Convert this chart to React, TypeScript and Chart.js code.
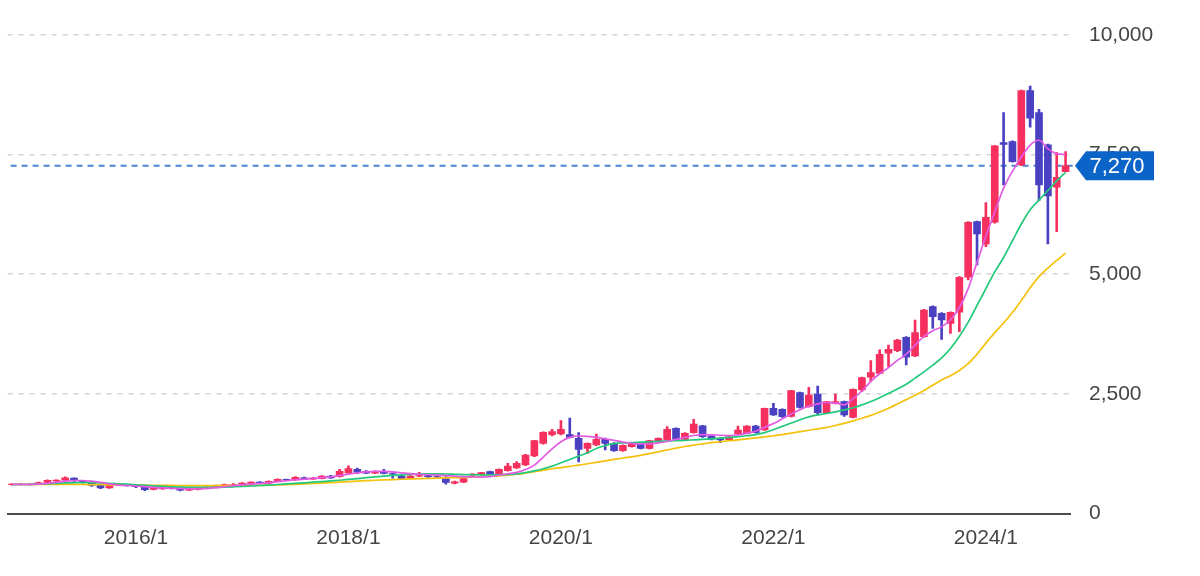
import { useEffect, useRef } from 'react';
import { Chart, registerables } from 'chart.js';

Chart.register(...registerables);

// ---- data (monthly, 2014/11 .. 2024/10) ----
const START_YEAR = 2014;
const START_MONTH = 11;

const OPEN = [
  600, 615, 605, 612, 648, 680, 698, 740, 678, 650,
  595, 535, 595, 600, 580, 565, 502, 515, 540, 518,
  485, 505, 520, 552, 582, 606, 612, 630, 656, 632,
  672, 712, 700, 745, 715, 730, 784, 772, 845, 922,
  880, 842, 880, 835, 782, 745, 782, 792, 772, 728,
  632, 655, 800, 812, 875, 826, 895, 951, 1014, 1202,
  1467, 1650, 1661, 1648, 1571, 1362, 1432, 1550, 1467, 1313,
  1397, 1467, 1362, 1501, 1536, 1780, 1550, 1690, 1830, 1620,
  1560, 1545, 1661, 1675, 1829, 1745, 2198, 2177, 2030, 2525,
  2233, 2497, 2107, 2302, 2337, 2010, 2581, 2847, 2930, 3349,
  3404, 3682, 3293, 3696, 4323, 4184, 3975, 4205, 4937, 6101,
  5634, 6087, 7753, 7773, 7285, 8837, 8380, 7704, 6819, 7146,
];
const HIGH = [
  625, 630, 625, 655, 705, 705, 765, 748, 690, 662,
  602, 602, 612, 608, 590, 572, 556, 548, 552, 530,
  520, 528, 562, 592, 615, 626, 645, 662, 666, 682,
  722, 718, 772, 760, 758, 792, 800, 925, 995, 948,
  898, 892, 925, 852, 810, 792, 858, 802, 792, 770,
  675, 740, 835, 862, 885, 935, 1049, 1083, 1235, 1530,
  1705, 1760, 1940, 1995, 1689, 1475, 1661, 1575, 1480, 1435,
  1465, 1480, 1530, 1580, 1815, 1790, 1690, 1968, 1845, 1630,
  1585, 1610, 1829, 1840, 1845, 2205, 2302, 2190, 2575, 2540,
  2637, 2665, 2345, 2497, 2350, 2605, 2850, 3195, 3418, 3522,
  3640, 3700, 4044, 4265, 4340, 4200, 4215, 4950, 6100, 6110,
  6498, 7690, 8380, 7790, 8850, 8935, 8449, 7720, 7544, 7565,
];
const LOW = [
  590, 595, 590, 605, 640, 665, 690, 668, 635, 565,
  520, 525, 580, 570, 540, 478, 495, 505, 512, 470,
  478, 495, 515, 545, 572, 595, 605, 622, 620, 625,
  665, 688, 695, 705, 710, 725, 735, 760, 840, 835,
  830, 830, 828, 740, 720, 730, 770, 742, 742, 612,
  618, 645, 790, 805, 815, 820, 885, 940, 1000, 1190,
  1450, 1620, 1640, 1580, 1076, 1258, 1420, 1327, 1300, 1300,
  1385, 1350, 1350, 1490, 1525, 1540, 1530, 1680, 1590, 1540,
  1480, 1530, 1650, 1665, 1680, 1735, 2050, 2010, 2020, 2200,
  2220, 2058, 2095, 2290, 2030, 2000, 2547, 2756, 2920, 3069,
  3380, 3104, 3280, 3680, 3870, 3640, 3766, 3801, 4881, 5195,
  5578, 6070, 6868, 7340, 7270, 8073, 6540, 5634, 5892, 7140,
];
const CLOSE = [
  615, 605, 612, 645, 692, 698, 748, 680, 652, 588,
  535, 595, 602, 582, 562, 500, 546, 540, 522, 485,
  512, 520, 552, 582, 606, 612, 635, 656, 632, 670,
  712, 700, 756, 712, 738, 784, 745, 880, 937, 862,
  842, 880, 840, 822, 735, 782, 790, 772, 762, 650,
  662, 730, 826, 854, 826, 923, 993, 1049, 1223, 1522,
  1696, 1710, 1759, 1592, 1341, 1467, 1550, 1467, 1313, 1425,
  1453, 1362, 1522, 1571, 1759, 1550, 1675, 1870, 1606, 1555,
  1540, 1600, 1745, 1829, 1689, 2198, 2058, 2024, 2567, 2219,
  2476, 2107, 2337, 2337, 2060, 2595, 2840, 2944, 3328, 3432,
  3626, 3265, 3780, 4253, 4114, 4044, 4205, 4937, 6087, 5843,
  6192, 7683, 7711, 7355, 8837, 8261, 6868, 6637, 7028, 7270,
];

// moving averages
const MA_SHORT = [
  610, 608, 607, 615, 630, 650, 675, 690, 690, 675,
  650, 620, 595, 585, 575, 560, 548, 535, 527, 520,
  515, 518, 525, 540, 560, 580, 600, 615, 630, 640,
  665, 685, 705, 720, 735, 750, 765, 790, 820, 850,
  868, 880, 880, 870, 850, 835, 820, 810, 800, 790,
  780, 770, 765, 760, 770, 800, 830, 860, 920, 1010,
  1180, 1350, 1500, 1590, 1620, 1610, 1590, 1560, 1530, 1495,
  1467, 1455, 1455, 1475, 1505, 1550, 1590, 1630, 1650, 1645,
  1635, 1630, 1640, 1680, 1720, 1800, 1880, 1980, 2080, 2170,
  2240, 2290, 2320, 2310, 2270, 2400, 2560, 2760, 2920, 3050,
  3200, 3330, 3520, 3700, 3820, 3900, 4050, 4300, 4700, 5250,
  5800, 6300, 6800, 7150, 7450, 7700, 7800, 7620, 7520, 7500,
];
const MA_MID = [
  605, 606, 608, 612, 620, 628, 638, 645, 648, 646,
  640, 632, 622, 612, 600, 588, 576, 566, 558, 552,
  548, 546, 546, 548, 552, 558, 565, 575, 585, 595,
  606, 618, 630, 642, 655, 668, 680, 695, 712, 730,
  748, 765, 780, 795, 808, 818, 826, 830, 830, 826,
  820, 814, 810, 808, 808, 810, 815, 830, 855, 890,
  935, 990, 1060, 1130, 1200, 1270, 1360, 1420, 1460, 1475,
  1480, 1492, 1500, 1508, 1515, 1522, 1530, 1540, 1550, 1560,
  1575, 1590, 1605, 1625, 1650, 1690, 1750, 1820, 1890, 1960,
  2020, 2060, 2090, 2125, 2165, 2210, 2270, 2340, 2420, 2510,
  2600, 2700, 2830, 2960, 3100, 3250, 3450, 3700, 4000, 4350,
  4700, 5050, 5350, 5700, 6050, 6350, 6550, 6750, 6950, 7130,
];
const MA_LONG = [
  610, 610, 608, 607, 606, 606, 607, 607, 606, 604,
  602, 600, 598, 596, 594, 592, 590, 588, 586, 585,
  584, 583, 582, 582, 582, 582, 583, 585, 588, 592,
  597, 603, 610, 618, 627, 636, 645, 655, 665, 675,
  685, 695, 703, 710, 716, 722, 728, 734, 740, 745,
  750, 755, 762, 770, 778, 786, 800, 820, 845, 875,
  905, 935, 960, 985, 1010, 1040, 1070, 1100, 1130, 1160,
  1185, 1215, 1250, 1290, 1330, 1365, 1400, 1430, 1455, 1480,
  1500, 1520, 1540, 1560, 1580, 1600, 1625, 1650, 1680, 1710,
  1740, 1770, 1800, 1840, 1885, 1935, 1990, 2050, 2120, 2200,
  2290, 2380, 2470, 2570, 2680, 2790, 2880, 2990, 3130, 3330,
  3560, 3780, 3980, 4200, 4450, 4720, 4950, 5130, 5290, 5440,
];

const TICK_LABELS = ['2016/1', '2018/1', '2020/1', '2022/1', '2024/1'];
const Y_TICKS = [0, 2500, 5000, 7500, 10000];
const LAST_PRICE = 7270;

const MONTHS: string[] = OPEN.map((_, i) => {
  const m = START_MONTH - 1 + i;
  return `${START_YEAR + Math.floor(m / 12)}/${(m % 12) + 1}`;
});

// ---- styles ----
const UP = '#f5305f';
const DOWN = '#4a40c2';
const PINK = '#e35ae3';
const GREEN = '#22c97a';
const YELLOW = '#f4c20d';
const BADGE = '#0b64c8';
const FONT = "'Liberation Sans', Arial, sans-serif";

const priceMarker = {
  id: 'priceMarker',
  beforeDatasetsDraw(chart: any) {
    const { ctx, chartArea, scales } = chart;
    const y = scales.y.getPixelForValue(LAST_PRICE);
    ctx.save();
    ctx.strokeStyle = '#4a86d0';
    ctx.lineWidth = 2;
    ctx.setLineDash([6, 5]);
    ctx.beginPath();
    ctx.moveTo(chartArea.left + 3, y);
    ctx.lineTo(chartArea.right + 6, y);
    ctx.stroke();
    ctx.restore();
  },
  afterDraw(chart: any) {
    const { ctx, chartArea, scales } = chart;
    const y = scales.y.getPixelForValue(LAST_PRICE);
    const x0 = chartArea.right + 5;
    const x1 = x0 + 11;
    const x2 = x0 + 79;
    const h = 14.5;
    ctx.save();
    ctx.fillStyle = BADGE;
    ctx.beginPath();
    ctx.moveTo(x0, y);
    ctx.lineTo(x1, y - h);
    ctx.lineTo(x2, y - h);
    ctx.lineTo(x2, y + h);
    ctx.lineTo(x1, y + h);
    ctx.closePath();
    ctx.fill();
    ctx.fillStyle = '#ffffff';
    ctx.font = `22px ${FONT}`;
    ctx.textAlign = 'center';
    ctx.textBaseline = 'middle';
    ctx.fillText(LAST_PRICE.toLocaleString('en-US'), (x1 + x2) / 2 - 3, y + 1);
    ctx.restore();
  },
};

export default function App() {
  const ref = useRef<HTMLCanvasElement | null>(null);

  useEffect(() => {
    if (!ref.current) return;
    const colors = OPEN.map((o, i) => (CLOSE[i] >= o ? UP : DOWN));
    const chart = new Chart(ref.current, {
      type: 'bar',
      data: {
        labels: MONTHS,
        datasets: [
          {
            type: 'line',
            label: 'short',
            data: MA_SHORT,
            borderColor: PINK,
            borderWidth: 1.7,
            pointRadius: 0,
            cubicInterpolationMode: 'monotone',
            order: 0,
          },
          {
            type: 'line',
            label: 'mid',
            data: MA_MID,
            borderColor: GREEN,
            borderWidth: 1.7,
            pointRadius: 0,
            cubicInterpolationMode: 'monotone',
            order: 1,
          },
          {
            type: 'line',
            label: 'long',
            data: MA_LONG,
            borderColor: YELLOW,
            borderWidth: 1.7,
            pointRadius: 0,
            cubicInterpolationMode: 'monotone',
            order: 2,
          },
          {
            type: 'bar',
            label: 'body',
            data: OPEN.map((o, i) => [o, CLOSE[i]]),
            backgroundColor: colors,
            borderWidth: 0,
            barThickness: 7,
            grouped: false,
            order: 3,
          },
          {
            type: 'bar',
            label: 'wick',
            data: LOW.map((l, i) => [l, HIGH[i]]),
            backgroundColor: colors,
            borderWidth: 0,
            barThickness: 2,
            grouped: false,
            order: 4,
          },
        ] as any,
      },
      options: {
        animation: false,
        responsive: false,
        maintainAspectRatio: false,
        layout: { padding: { left: 5, top: 35, right: 0, bottom: 0 } },
        plugins: {
          legend: { display: false },
          tooltip: { enabled: false },
        },
        scales: {
          x: {
            type: 'category',
            offset: true,
            grid: { display: false, drawTicks: false },
            border: { display: true, color: '#4d4d4d', width: 2 },
            ticks: {
              autoSkip: false,
              maxRotation: 0,
              minRotation: 0,
              padding: 12,
              color: '#454545',
              font: { family: FONT, size: 21 },
              callback: (_v: any, i: number) =>
                TICK_LABELS.includes(MONTHS[i]) ? MONTHS[i] : '',
            },
            afterFit: (s: any) => {
              s.height = 62.5;
            },
          },
          y: {
            position: 'right',
            min: Y_TICKS[0],
            max: Y_TICKS[Y_TICKS.length - 1],
            grid: { color: '#d4d4d4', lineWidth: 1.6, drawTicks: false },
            border: { display: false, dash: [5, 6] },
            ticks: {
              stepSize: Y_TICKS[1] - Y_TICKS[0],
              padding: 19,
              color: '#454545',
              font: { family: FONT, size: 21 },
              callback: (v: any) => Number(v).toLocaleString('en-US'),
            },
            afterFit: (s: any) => {
              s.width = 130;
            },
          },
        },
      } as any,
      plugins: [priceMarker],
    });
    return () => chart.destroy();
  }, []);

  return (
    <div
      style={{
        position: 'absolute',
        left: 0,
        top: 0,
        width: 1200,
        height: 576,
        background: '#ffffff',
      }}
    >
      <canvas ref={ref} width={1200} height={576} />
    </div>
  );
}
